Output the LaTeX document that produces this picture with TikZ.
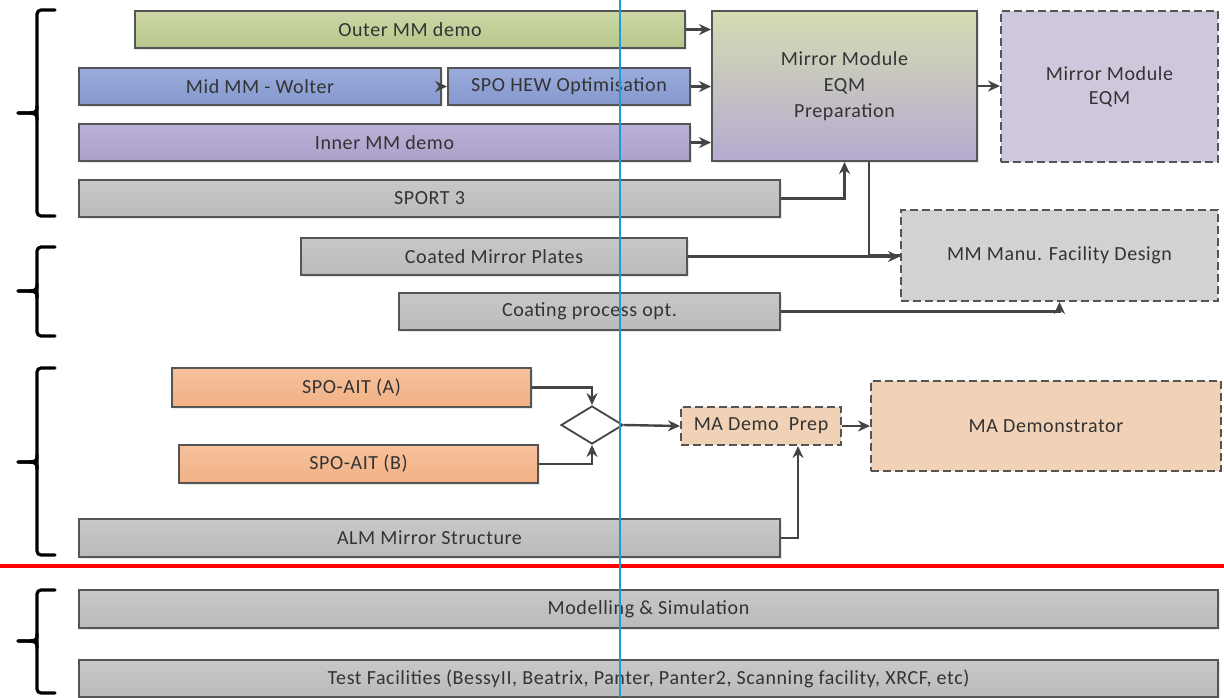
\documentclass[tikz,border=0pt]{standalone}
\usepackage{fontspec}
\setmainfont{Carlito}[LetterSpace=3]
\usetikzlibrary{shapes.geometric,arrows.meta,shadows}
\definecolor{txt}{HTML}{333333}
\definecolor{bord}{HTML}{555555}
\definecolor{arrc}{HTML}{444444}
\definecolor{grnT}{HTML}{CDD8A6}
\definecolor{grnB}{HTML}{B6C68B}
\definecolor{bluT}{HTML}{9AACDB}
\definecolor{bluB}{HTML}{8598CE}
\definecolor{purT}{HTML}{BBB1D6}
\definecolor{purB}{HTML}{ACA0CA}
\definecolor{gryT}{HTML}{C8C8C8}
\definecolor{gryB}{HTML}{BABABA}
\definecolor{orgT}{HTML}{F6C19C}
\definecolor{orgB}{HTML}{F1B184}
\definecolor{prepT}{HTML}{D5DCB2}
\definecolor{prepB}{HTML}{B6AAD1}
\definecolor{eqmF}{HTML}{CFC8DD}
\definecolor{manuF}{HTML}{D2D2D2}
\definecolor{madF}{HTML}{F1D2B6}
\definecolor{bluel}{HTML}{1E9BD7}
\tikzset{
  box/.style={draw=bord, line width=1pt, anchor=north west, inner sep=0pt,
    text=txt, font=\fontsize{10pt}{12pt}\selectfont, align=center,
    drop shadow={opacity=0.18, shadow xshift=0.8pt, shadow yshift=-0.8pt}},
  gbox/.style={box, top color=gryT, bottom color=gryB},
  dbox/.style={draw=bord, line width=1pt, dashed, dash pattern=on 4pt off 2pt, anchor=north west, inner sep=0pt,
    text=txt, font=\fontsize{10pt}{12pt}\selectfont, align=center},
  arr/.style={draw=arrc, line width=1.2pt, -{Stealth[length=6pt,width=5.5pt]}},
  lin/.style={draw=arrc, line width=1.2pt},
  brace/.style={draw=black, line width=1.6pt, rounded corners=2pt, line cap=round},
}
\begin{document}
\begin{tikzpicture}[x=0.5pt,y=-0.5pt]
\useasboundingbox (0,0) rectangle (1224,697);
% boxes
\node[box, top color=grnT, bottom color=grnB, minimum width=275pt, minimum height=18.5pt] (outer) at (134,10) {Outer MM demo};
\node[box, top color=bluT, bottom color=bluB, minimum width=181pt, minimum height=18.5pt] (mid) at (78,67) {Mid MM - Wolter};
\node[box, top color=bluT, bottom color=bluB, minimum width=121pt, minimum height=18.5pt] (hew) at (447,67) {SPO HEW Optimisation};
\node[box, top color=purT, bottom color=purB, minimum width=305.5pt, minimum height=18.5pt] (inner) at (78,123) {Inner MM demo};
\node[gbox, minimum width=350.5pt, minimum height=18.5pt] (sport) at (78,179) {SPORT 3};
\node[box, top color=prepT, bottom color=prepB, minimum width=132.5pt, minimum height=75pt] (prep) at (711,10) {Mirror Module\\[1pt]EQM\\[1pt]Preparation};
\node[dbox, fill=eqmF, minimum width=108.5pt, minimum height=75.5pt] (eqm) at (1000,10) {Mirror Module\\EQM};
\node[gbox, minimum width=193pt, minimum height=18.5pt] (coated) at (300,237) {Coated Mirror Plates};
\node[gbox, minimum width=190.5pt, minimum height=18.5pt] (coating) at (398,292) {Coating process opt.};
\node[dbox, fill=manuF, minimum width=158.5pt, minimum height=45.5pt] (manu) at (900,209) {MM Manu. Facility Design};
\node[box, top color=orgT, bottom color=orgB, minimum width=179.5pt, minimum height=19.5pt] (aitA) at (171,367) {SPO-AIT (A)};
\node[box, top color=orgT, bottom color=orgB, minimum width=179.5pt, minimum height=19pt] (aitB) at (178,444) {SPO-AIT (B)};
\node[diamond, draw=arrc, line width=0.9pt, fill=white, minimum width=31pt, minimum height=19pt, inner sep=0pt, aspect=1.6] (dia) at (592,425) {};
\node[dbox, fill=madF, minimum width=80pt, minimum height=19pt] (madp) at (680,406) {MA Demo\ \ Prep};
\node[dbox, fill=madF, minimum width=175pt, minimum height=45pt] (mad) at (870,380) {MA Demonstrator};
\node[gbox, minimum width=350.5pt, minimum height=19pt] (alm) at (78,518) {ALM Mirror Structure};
\node[gbox, minimum width=569.5pt, minimum height=19pt] (model) at (78,589) {Modelling \& Simulation};
\node[gbox, minimum width=569.5pt, minimum height=18.5pt] (test) at (78,659) {Test Facilities (BessyII, Beatrix, Panter, Panter2, Scanning facility, XRCF, etc)};
% connectors
\draw[arr] (outer.east) -- (outer.east -| prep.west);
\draw[arr] (mid.east) -- (hew.west);
\draw[arr] (hew.east) -- (hew.east -| prep.west);
\draw[arr] (inner.east) -- (inner.east -| prep.west);
\draw[arr] (sport.east) -| (prep.south);
\draw[arr] (prep.east) -- (prep.east -| eqm.west);
\draw[lin] ([xshift=12.25pt]prep.south) |- (manu.west);
\draw[arr] (coated.east) -- (coated.east -| manu.west);
\draw[arr] (coating.east) -| (manu.south);
\draw[arr] (aitA.east) -| (dia.north);
\draw[arr] (aitB.east) -| (dia.south);
\draw[arr] (dia.east) -- (madp.west);
\draw[arr] (madp.east) -- (madp.east -| mad.west);
\draw[arr] (alm.east) -| ([xshift=18.5pt]madp.south);
% red separator
\draw[red, line width=2pt] (0,566) -- (1224,566);
% braces
\foreach \t/\m/\b in {10/113/216, 247/291/336, 368/462/555, 590/641/693}{
  \draw[brace] (55,\t) -- (37,\t) -- (37,\b) -- (55,\b);
  \draw[draw=black, line width=1.6pt, line cap=round] (37,\m-7) .. controls (37,\m) .. (18,\m);
  \draw[draw=black, line width=1.6pt, line cap=round] (37,\m+7) .. controls (37,\m) .. (18,\m);
}
% blue vertical line
\draw[bluel, line width=0.8pt] (620,0) -- (620,697);
\end{tikzpicture}
\end{document}
